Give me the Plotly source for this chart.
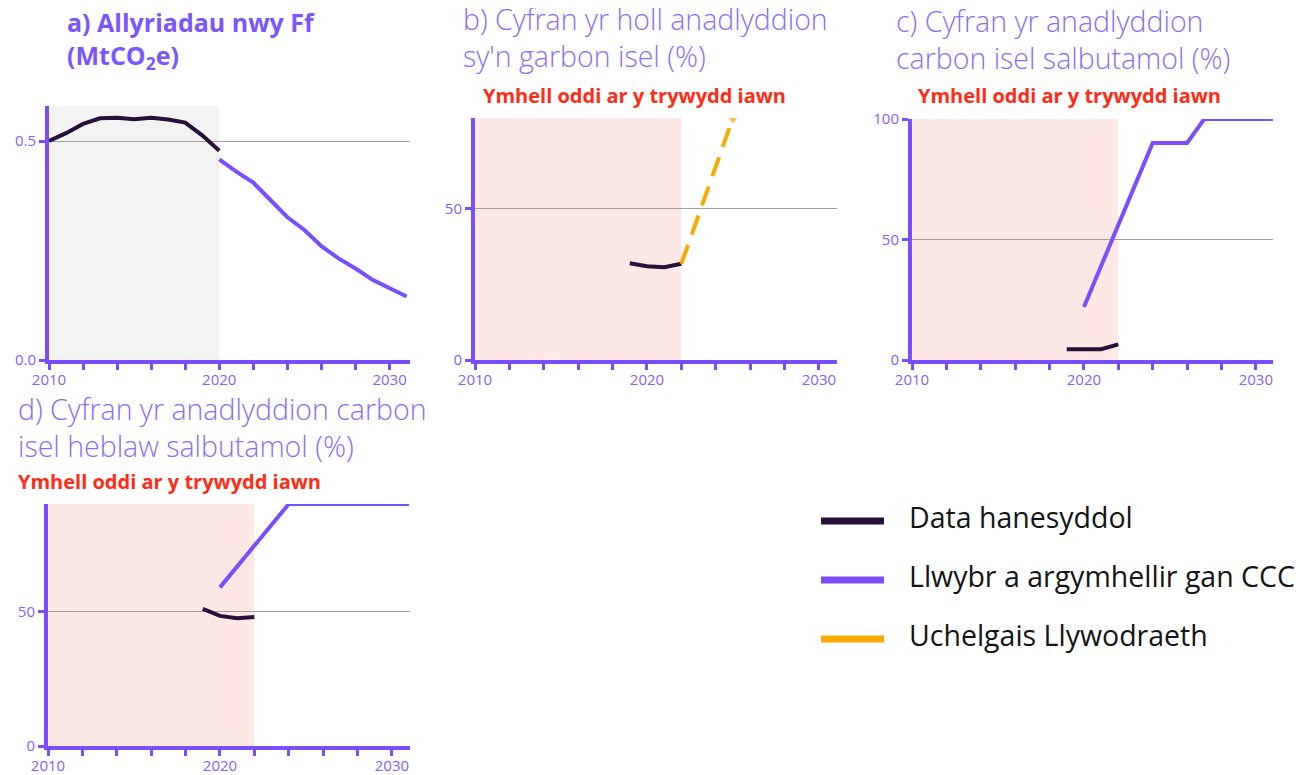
import plotly.graph_objects as go

# ── Data ─────────────────────────────────────────────────────────────────────
a_hist_years = [2010, 2011, 2012, 2013, 2014, 2015, 2016, 2017, 2018, 2019, 2020]
a_hist_vals = [0.500, 0.518, 0.539, 0.552, 0.553, 0.550, 0.553, 0.549, 0.542, 0.513, 0.478]
a_path_years = [2020, 2021, 2022, 2023, 2024, 2025, 2026, 2027, 2028, 2029, 2030, 2031]
a_path_vals = [0.458, 0.430, 0.405, 0.365, 0.326, 0.297, 0.260, 0.232, 0.209, 0.183, 0.164, 0.145]

b_hist_years = [2019, 2020, 2021, 2022]
b_hist_vals = [32.0, 31.0, 30.7, 31.8]
b_amb_years = [2022, 2025]
b_amb_vals = [31.8, 80.0]

c_hist_years = [2019, 2020, 2021, 2022]
c_hist_vals = [4.5, 4.5, 4.5, 6.5]
c_path_years = [2020, 2024, 2025, 2026, 2027, 2028, 2029, 2030, 2031]
c_path_vals = [22, 90, 90, 90, 100, 100, 100, 100, 100]

d_hist_years = [2019, 2020, 2021, 2022]
d_hist_vals = [51.0, 48.4, 47.5, 48.0]
d_path_years = [2020, 2024, 2025, 2026, 2027, 2028, 2029, 2030, 2031]
d_path_vals = [59, 90, 90, 90, 90, 90, 90, 90, 90]

legend_labels = ["Data hanesyddol", "Llwybr a argymhellir gan CCC", "Uchelgais Llywodraeth"]
status_text = "Ymhell oddi ar y trywydd iawn"

# ── Style ────────────────────────────────────────────────────────────────────
PURPLE = "#7a4dff"
TICK_PURPLE = "#8460ff"
TITLE_PURPLE = "#8b6ef6"
HIST = "#27103c"
ORANGE = "#f8aa00"
RED = "#ff2b14"
FONT = "Open Sans, sans-serif"
W, H = 1309, 775
PAGE_OFFSET = 8  # default body margin of the html page


def px_x(x):
    return (x - PAGE_OFFSET) / W


def px_y(y):
    return 1 - (y - PAGE_OFFSET) / H


fig = go.Figure()


def line(xs, ys, color, axis, dash=None, clip=False, marker=None):
    fig.add_trace(go.Scatter(
        x=xs, y=ys, mode="lines+markers" if marker else "lines",
        xaxis="x" + axis, yaxis="y" + axis,
        line=dict(color=color, width=4, dash=dash), marker=marker, showlegend=False,
        cliponaxis=clip, hoverinfo="skip",
    ))


line(a_hist_years, a_hist_vals, HIST, "")
line(a_path_years, a_path_vals, PURPLE, "")
line(b_hist_years, b_hist_vals, HIST, "2")
line(b_amb_years, b_amb_vals, ORANGE, "2", dash="20px,11px", clip=True,
     marker=dict(symbol="triangle-down", size=[0, 11], color=ORANGE, line_width=0))
line(c_path_years, c_path_vals, PURPLE, "3")
line(c_hist_years, c_hist_vals, HIST, "3")
line(d_path_years, d_path_vals, PURPLE, "4")
line(d_hist_years, d_hist_vals, HIST, "4")

tick_font = dict(color=TICK_PURPLE, size=15, family=FONT)

xaxis_common = dict(
    tickvals=[2010, 2020, 2030], ticks="outside", ticklen=6, tickwidth=3,
    tickcolor=PURPLE, showline=True, linecolor=PURPLE, linewidth=4, showgrid=False,
    zeroline=False, tickfont=tick_font, fixedrange=True, automargin=False,
    ticklabelstandoff=-3,
    minor=dict(tick0=2010, dtick=2, ticks="outside", ticklen=6, tickwidth=3,
               tickcolor=PURPLE, showgrid=False),
)
yaxis_common = dict(
    ticks="outside", ticklen=6, tickwidth=3, tickcolor=PURPLE, showline=True,
    linecolor=PURPLE, linewidth=4, showgrid=True, gridcolor="#a0a0a0", gridwidth=1,
    zeroline=False, tickfont=tick_font, fixedrange=True, automargin=False,
)

panels = {
    "": dict(x=(49, 410), y=(106, 360), xr=[2010, 2031.2], yr=[0, 0.58],
             yt=[0, 0.5], ytt=["0.0", "0.5"]),
    "2": dict(x=(475, 837), y=(118, 360), xr=[2010, 2031.05], yr=[0, 80],
              yt=[0, 50], ytt=["0", "50"]),
    "3": dict(x=(912, 1273), y=(119, 360), xr=[2010, 2031], yr=[0, 100],
              yt=[0, 50, 100], ytt=["0", "50", "100"]),
    "4": dict(x=(48, 410), y=(504, 746), xr=[2010, 2031.05], yr=[0, 90],
              yt=[0, 50], ytt=["0", "50"]),
}

layout_axes = {}
for k, p in panels.items():
    xa = dict(xaxis_common, domain=[px_x(p["x"][0]), px_x(p["x"][1])], range=p["xr"],
              anchor="y" + k)
    ya = dict(yaxis_common, domain=[px_y(p["y"][1]), px_y(p["y"][0])], range=p["yr"],
              tickvals=p["yt"], ticktext=p["ytt"], anchor="x" + k)
    layout_axes["xaxis" + k] = xa
    layout_axes["yaxis" + k] = ya

# shaded history bands
shapes = [
    dict(type="rect", xref="x", yref="y domain", x0=2010, x1=2020, y0=0, y1=1,
         fillcolor="#f3f3f3", line_width=0, layer="below"),
    dict(type="rect", xref="x2", yref="y2 domain", x0=2010, x1=2022, y0=0, y1=1,
         fillcolor="#fde8e6", line_width=0, layer="below"),
    dict(type="rect", xref="x3", yref="y3 domain", x0=2010, x1=2022, y0=0, y1=1,
         fillcolor="#fde8e6", line_width=0, layer="below"),
    dict(type="rect", xref="x4", yref="y4 domain", x0=2010, x1=2022, y0=0, y1=1,
         fillcolor="#fde8e6", line_width=0, layer="below"),
]

annotations = []


def text(x, y, s, size, color, weight="normal"):
    annotations.append(dict(
        x=px_x(x), y=px_y(y), xref="paper", yref="paper", text=s, showarrow=False,
        xanchor="left", yanchor="middle", align="left",
        font=dict(size=size, color=color, family=FONT, weight=weight),
    ))


# titles (two lines each)
text(65, 39.5, "<b>a) Allyriadau nwy Ff<br>(MtCO<sub>2</sub>e)</b>", 25, "#7b55ff")
text(461, 38, "b) Cyfran yr holl anadlyddion<br>sy'n garbon isel (%)", 28.5, TITLE_PURPLE, 300)
text(894, 40, "c) Cyfran yr anadlyddion<br>carbon isel salbutamol (%)", 28.5, TITLE_PURPLE, 300)
text(16, 427, "d) Cyfran yr anadlyddion carbon<br>isel heblaw salbutamol (%)", 28.5,
     TITLE_PURPLE, 300)

# status labels
text(481, 96, "<b>" + status_text + "</b>", 20, RED)
text(916, 96, "<b>" + status_text + "</b>", 20, RED)
text(16, 481, "<b>" + status_text + "</b>", 20, RED)

# legend
legend_colors = [HIST, PURPLE, ORANGE]
for i, (lab, col) in enumerate(zip(legend_labels, legend_colors)):
    yy = 519 + i * 59
    shapes.append(dict(type="line", xref="paper", yref="paper",
                       x0=px_x(821), x1=px_x(884), y0=px_y(yy + 2), y1=px_y(yy + 2),
                       line=dict(color=col, width=7)))
    text(907, yy - 2, lab, 28.5, "#151515")

fig.update_layout(
    width=W, height=H, margin=dict(l=0, r=0, t=0, b=0),
    plot_bgcolor="white", paper_bgcolor="white",
    font=dict(family=FONT), showlegend=False,
    shapes=shapes, annotations=annotations, **layout_axes,
)

fig.write_html("out.html")
